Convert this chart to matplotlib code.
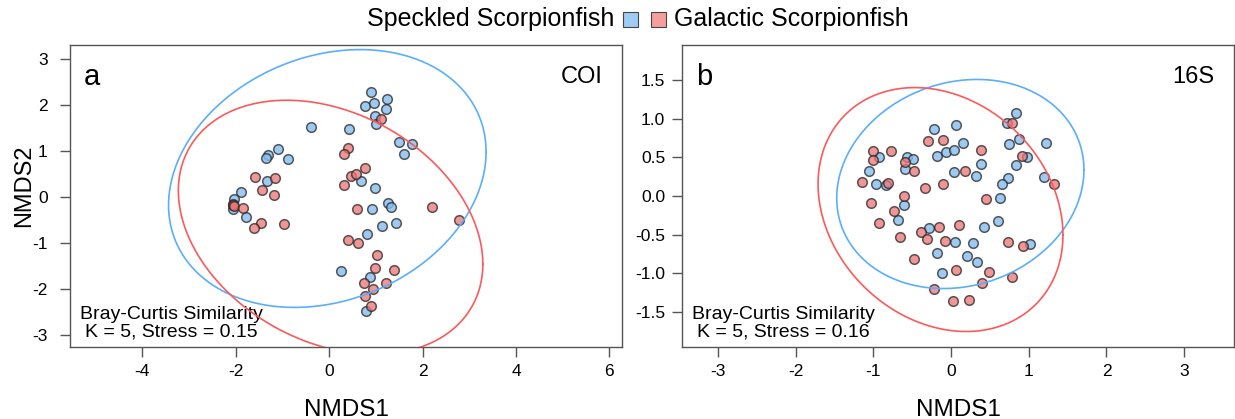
import matplotlib
matplotlib.use("Agg")
import matplotlib.pyplot as plt
import matplotlib.patches as patches
import numpy as np

plt.rcParams['font.family'] = ['Liberation Sans', 'DejaVu Sans']

W_PX, H_PX = 1235, 419

# ---------------- COI ordination scores (NMDS1, NMDS2) ----------------
coi_speckled_x = [-0.39, 0.43, -1.09, -1.30, -1.35, -0.89, -1.33, -1.89, -2.03,
                  -2.05, -1.78, 0.89, 0.77, 0.97, 1.24, 1.22, 0.99, 1.01, 1.50,
                  1.77, 1.60, 0.69, 0.98, 1.27, 1.32, 0.92, 1.14, 1.42, 0.81,
                  0.26, 0.88, 0.79]
coi_speckled_y = [1.51, 1.48, 1.04, 0.91, 0.84, 0.82, 0.35, 0.10, -0.04,
                  -0.26, -0.43, 2.28, 1.98, 2.04, 2.12, 1.92, 1.75, 1.59, 1.20,
                  1.15, 0.93, 0.35, 0.20, -0.14, -0.22, -0.26, -0.63, -0.56, -0.81,
                  -1.60, -1.75, -2.48]

coi_galactic_x = [-1.58, -1.16, -1.43, -1.18, -2.05, -2.05, -2.04, -1.84, -1.46, -1.62,
                  -0.96, 1.11, 0.40, 0.31, 0.76, 0.46, 0.57, 0.31, 0.60, 2.21,
                  2.78, 0.41, 0.62, 1.02, 0.98, 1.38, 0.74, 1.21, 0.94, 0.76, 0.90]
coi_galactic_y = [0.44, 0.42, 0.15, 0.04, -0.15, -0.17, -0.19, -0.25, -0.56, -0.67,
                  -0.59, 1.70, 1.07, 0.93, 0.62, 0.46, 0.49, 0.26, -0.26, -0.21,
                  -0.50, -0.93, -1.01, -1.26, -1.55, -1.59, -1.87, -1.87, -2.01, -2.15, -2.38]

# ---------------- 16S ordination scores ----------------
s16_speckled_x = [-0.22, 0.06, 0.83, 0.72, 0.15, 0.75, 0.88, -0.18, -0.06, 0.04,
                  -0.93, -0.57, -0.49, 0.98, 0.39, 0.83, -1.06, -0.59, 0.04, 0.32,
                  0.73, 0.66, -0.96, -0.83, 0.63, -0.60, -0.68, -0.28, 0.42, 0.60,
                  0.05, 0.28, 1.02, -0.18, 0.21, 0.34, -0.11, 1.22, 1.19]
s16_speckled_y = [0.87, 0.92, 1.07, 0.94, 0.69, 0.67, 0.73, 0.52, 0.57, 0.59,
                  0.51, 0.51, 0.48, 0.51, 0.41, 0.40, 0.32, 0.35, 0.31, 0.26,
                  0.23, 0.16, 0.15, 0.14, -0.02, -0.12, -0.31, -0.41, -0.40, -0.32,
                  -0.60, -0.61, -0.62, -0.73, -0.77, -0.85, -0.99, 0.68, 0.25]

s16_galactic_x = [0.79, -0.30, -0.10, 0.39, -1.00, -0.77, -1.00, -0.59, 0.91, -0.48,
                  0.18, -1.14, -0.81, -0.34, -0.10, -0.61, 0.45, -1.03, -0.73, -0.93,
                  -0.39, -0.15, 0.10, -0.66, -0.31, -0.08, 0.73, 0.93, -0.47, 0.06,
                  0.49, 0.40, 0.79, -0.22, 0.02, 0.23, 1.32]
s16_galactic_y = [0.94, 0.71, 0.72, 0.60, 0.58, 0.58, 0.47, 0.44, 0.52, 0.32,
                  0.32, 0.18, 0.17, 0.10, 0.15, 0.00, -0.04, -0.09, -0.20, -0.35,
                  -0.46, -0.40, -0.38, -0.53, -0.55, -0.58, -0.60, -0.65, -0.82, -0.96,
                  -0.98, -1.12, -1.05, -1.20, -1.36, -1.34, 0.15]

# group ellipses: centre (x, y), half-width, half-height, xy spread term
coi_ellipses = {'speckled': (-0.04, 0.40, 3.40, 2.80, 1.97),
                'galactic': (0.03, -0.66, 3.26, 2.76, -2.60)}
s16_ellipses = {'speckled': (0.12, 0.155, 1.59, 1.35, 0.29),
                'galactic': (-0.135, -0.175, 1.575, 1.575, -0.52)}

blue_fill = (0.52, 0.74, 0.94, 0.8)
red_fill = (0.93, 0.45, 0.45, 0.75)
edge = (0.15, 0.15, 0.15, 0.75)
blue_line = '#5aaefc'
red_line = '#fb5a5a'
axis_grey = '#555555'


def ellipse_xy(cx, cy, w, h, c, n=300):
    m = np.array([[w * w, c], [c, h * h]])
    l = np.linalg.cholesky(m)
    t = np.linspace(0, 2 * np.pi, n)
    pts = l @ np.vstack([np.cos(t), np.sin(t)])
    return cx + pts[0], cy + pts[1]


def style_axes(ax):
    for s in ax.spines.values():
        s.set_color(axis_grey)
        s.set_linewidth(1.0)
    ax.tick_params(direction='out', length=7, width=1.0, color=axis_grey,
                   labelsize=12.5, pad=5, labelcolor='black')


def panel(ax, sx, sy, gx, gy, ells, xlim, ylim, xticks, yticks, ytick_fmt):
    ax.scatter(sx, sy, s=48, facecolor=blue_fill, edgecolor=edge, linewidth=1.1, zorder=3)
    ax.scatter(gx, gy, s=48, facecolor=red_fill, edgecolor=edge, linewidth=1.1, zorder=3)
    ex, ey = ellipse_xy(*ells['speckled'])
    ax.plot(ex, ey, color=blue_line, lw=1.2, zorder=4)
    ex, ey = ellipse_xy(*ells['galactic'])
    ax.plot(ex, ey, color=red_line, lw=1.2, zorder=4)
    ax.set_xlim(*xlim)
    ax.set_ylim(*ylim)
    ax.set_xticks(xticks)
    ax.set_xticklabels([str(v) for v in xticks])
    ax.set_yticks(yticks)
    ax.set_yticklabels([ytick_fmt(v) for v in yticks])
    style_axes(ax)


fig = plt.figure(figsize=(W_PX / 100, H_PX / 100), dpi=100)

ax1 = fig.add_axes([70 / W_PX, 72 / H_PX, 552 / W_PX, 302 / H_PX])
panel(ax1, coi_speckled_x, coi_speckled_y, coi_galactic_x, coi_galactic_y, coi_ellipses,
      (-5.55, 6.27), (-3.26, 3.30), [-4, -2, 0, 2, 4, 6], [-3, -2, -1, 0, 1, 2, 3],
      lambda v: str(v))
ax1.tick_params(axis='y', pad=9)

ax2 = fig.add_axes([682 / W_PX, 72 / H_PX, 552 / W_PX, 302 / H_PX])
panel(ax2, s16_speckled_x, s16_speckled_y, s16_galactic_x, s16_galactic_y, s16_ellipses,
      (-3.46, 3.64), (-1.95, 1.95), [-3, -2, -1, 0, 1, 2, 3],
      [-1.5, -1.0, -0.5, 0.0, 0.5, 1.0, 1.5], lambda v: f"{v:.1f}")

for ax, letter, marker, stress in [(ax1, 'a', 'COI', '0.15'), (ax2, 'b', '16S', '0.16')]:
    ax.text(0.025, 0.895, letter, transform=ax.transAxes, fontsize=21, va='center', ha='left')
    ax.text(0.964, 0.895, marker, transform=ax.transAxes, fontsize=17, va='center', ha='right')
    ax.text(0.183, 0.02, 'Bray-Curtis Similarity\nK = 5, Stress = ' + stress,
            transform=ax.transAxes, fontsize=14, ha='center', va='bottom',
            linespacing=1.05)
    ax.text(0.5, -0.21, 'NMDS1', transform=ax.transAxes, fontsize=17.5,
            ha='center', va='center')

fig.text(24 / W_PX, 1 - 186 / H_PX, 'NMDS2', rotation=90, fontsize=17,
         ha='center', va='center')

# legend strip along the top
fig.text(614 / W_PX, 1 - 19 / H_PX, 'Speckled Scorpionfish', fontsize=18,
         ha='right', va='center')
fig.text(674 / W_PX, 1 - 19 / H_PX, 'Galactic Scorpionfish', fontsize=18,
         ha='left', va='center')
for cx, col in [(630, (0.62, 0.80, 0.96)), (658, (0.96, 0.62, 0.62))]:
    fig.add_artist(patches.Rectangle(((cx - 7.5) / W_PX, 1 - 27 / H_PX), 15 / W_PX, 15 / H_PX,
                                     transform=fig.transFigure, facecolor=col,
                                     edgecolor='#444444', linewidth=0.8))

fig.savefig('out.png', dpi=100)
